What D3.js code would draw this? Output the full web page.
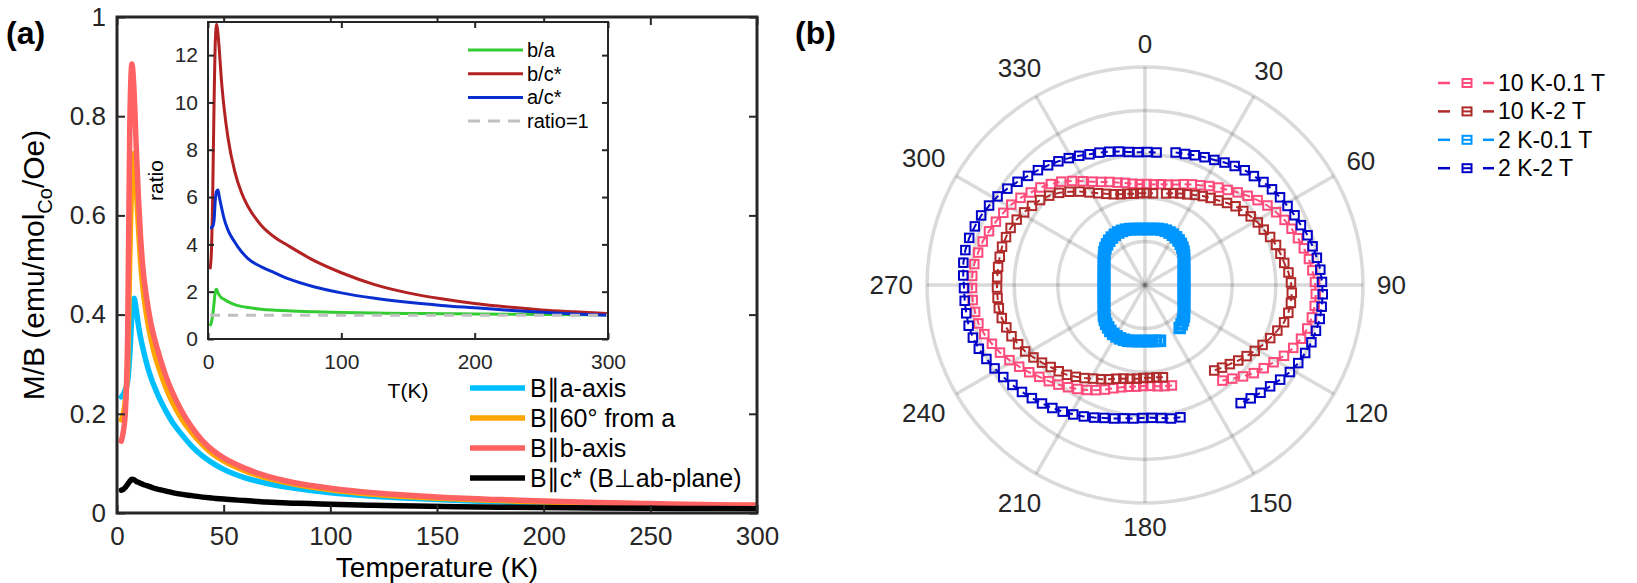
<!DOCTYPE html>
<html><head><meta charset="utf-8">
<script src="https://cdn.jsdelivr.net/npm/d3@7"></script>
<style>body{margin:0;background:#fff} svg{display:block}</style>
</head><body>
<svg id="c" width="1637" height="583"></svg>
<script>
// ---------------- DATA ----------------
// Panel (a): M/B vs temperature
const temps = [2,3,4,5,6,7,8,9,10,11,12,14,16,18,20,23,26,30,35,40,45,50,60,70,80,90,100,120,140,160,180,200,225,250,275,300];
const mbA  = [0.234,0.24,0.25,0.265,0.32,0.40,0.433,0.41,0.38,0.355,0.335,0.30,0.272,0.25,0.23,0.205,0.183,0.16,0.135,0.115,0.10,0.088,0.071,0.060,0.052,0.046,0.041,0.034,0.029,0.025,0.022,0.020,0.018,0.017,0.015,0.014];
const mb60 = [0.188,0.20,0.23,0.30,0.52,0.68,0.725,0.66,0.58,0.51,0.46,0.395,0.35,0.315,0.288,0.252,0.223,0.192,0.162,0.138,0.119,0.105,0.085,0.071,0.061,0.053,0.047,0.038,0.032,0.028,0.025,0.022,0.020,0.018,0.016,0.015];
const mbB  = [0.145,0.165,0.21,0.36,0.78,0.905,0.85,0.74,0.64,0.56,0.50,0.43,0.38,0.345,0.315,0.275,0.243,0.208,0.173,0.146,0.126,0.111,0.090,0.075,0.064,0.056,0.050,0.041,0.035,0.030,0.027,0.024,0.021,0.019,0.017,0.016];
const mbC  = [0.046,0.048,0.052,0.058,0.064,0.068,0.067,0.064,0.062,0.060,0.058,0.055,0.052,0.049,0.047,0.044,0.041,0.038,0.035,0.032,0.030,0.028,0.025,0.022,0.020,0.019,0.0175,0.0155,0.014,0.0128,0.0118,0.011,0.0102,0.0095,0.009,0.0085];
const mainNames = ["B\u2225a-axis","B\u222560\u00b0 from a","B\u2225b-axis","B\u2225c* (B\u22a5ab-plane)"];
const xTicksMain = [0,50,100,150,200,250,300];
const yTicksMain = [0,0.2,0.4,0.6,0.8,1];

// Inset: anisotropy ratios
const ratioT  = [1.5,2.5,3.5,4.5,5.5,6.5,7.5,8.5,10,12,15,20,25,30,40,50,60,80,100,125,150,175,200,225,250,275,300];
const ratioBA = [0.55,0.7,1.0,1.5,2.0,2.1,1.95,1.85,1.75,1.68,1.58,1.45,1.38,1.33,1.26,1.22,1.19,1.15,1.12,1.1,1.08,1.07,1.06,1.05,1.04,1.03,1.03];
const ratioBC = [2.95,3.6,6.0,9.8,12.6,13.3,12.9,12.2,11.0,9.8,8.5,7.1,6.2,5.6,4.8,4.3,3.95,3.3,2.8,2.3,1.95,1.7,1.5,1.35,1.23,1.15,1.08];
const ratioAC = [4.7,4.7,4.75,5.0,5.9,6.25,6.3,6.0,5.6,5.1,4.6,4.1,3.7,3.4,3.05,2.8,2.55,2.2,1.95,1.72,1.55,1.42,1.32,1.22,1.13,1.06,1.0];
const ratioNames = ["b/a","b/c*","a/c*","ratio=1"];
const insetXTicks = [0,100,200,300];
const insetYTicks = [0,2,4,6,8,10,12];

// Panel (b): angular dependence (angle in degrees, clockwise from 0 at top; values beyond 360 wrap)
const polarAngles = d3.range(165, 502, 4);
const r10K01T = [1.04,1.03,1.02,1.01,1.01,1.02,1.03,1.05,1.08,1.12, 1.16,1.20,1.24,1.28,1.32,1.36,1.40,1.45,1.50,1.55, 1.60,1.64,1.68,1.71,1.72,1.73,1.73,1.73,1.72,1.70, 1.68,1.65,1.62,1.59,1.56,1.52,1.47,1.43,1.38,1.33, 1.27,1.21,1.16,1.12,1.09,1.06,1.04,1.02,1.01,1.01, 1.01,1.02,1.03,1.05,1.08,1.11,1.14,1.18,1.22,1.26, 1.31,1.36,1.41,1.46,1.50,1.54,1.57,1.60,1.63,1.66, 1.68,1.70,1.71,1.71,1.70,1.68,1.65,1.61,1.56,1.50, 1.45,1.40,1.34,1.28,1.23];
const r10K2T  = [null,0.94,0.93,0.93,0.93,0.94,0.95,0.96,0.98,1.01, 1.04,1.07,1.11,1.15,1.19,1.22,1.25,1.29,1.33,1.37, 1.40,1.43,1.45,1.47,1.48,1.48,1.48,1.48,1.48,1.48, 1.48,1.47,1.46,1.44,1.41,1.38,1.35,1.31,1.26,1.20, 1.14,1.08,1.03,0.99,0.96,0.94,0.93,0.92,0.92,0.92, 0.92,null,0.94,0.96,0.98,1.00,1.03,1.06,1.09,1.12, 1.16,1.20,1.23,1.26,1.29,1.31,1.34,1.37,1.39,1.41, 1.44,1.46,1.47,1.47,1.46,1.44,1.40,1.36,1.32,1.28, 1.24,1.20,1.16,1.13,1.10];
const r2K01T  = [0.577,0.570,0.564,0.561,0.560,0.562,0.567,0.575,0.583,0.586, 0.589,0.587,0.583,0.575,0.562,0.549,0.532,0.513,0.489,0.469, 0.452,0.439,0.429,0.421,0.415,0.412,0.410,0.411,0.413,0.418, 0.424,0.434,0.445,0.460,0.478,0.500,0.522,0.541,0.556,0.569, 0.579,0.586,0.589,0.588,0.585,0.579,0.570,0.564,0.561,0.560, 0.562,0.567,0.575,0.579,0.581,0.579,0.575,0.569,0.558,0.546, 0.529,0.510,0.489,0.465,0.446,0.430,0.418,0.408,0.400,0.395, 0.391,0.390,0.391,0.393,0.397,0.404,0.412,0.424,0.438,0.454, 0.477,0.500,0.519,0.537,0.552];
const r2K2T   = [1.37,1.36,1.34,1.33,1.33,1.34,1.35,1.37,1.39,1.42, 1.45,1.48,1.51,1.54,1.57,1.60,1.63,1.66,1.69,1.72, 1.75,1.78,1.80,1.81,1.81,1.81,1.81,1.82,1.83,1.83, 1.82,1.80,1.78,1.75,1.72,1.68,1.64,1.60,1.57,1.54, 1.51,1.48,1.45,1.42,1.40,1.38,1.36,1.34,1.33,1.33, 1.33,null,1.36,1.37,1.39,1.41,1.43,1.46,1.49,1.52, 1.54,1.57,1.59,1.61,1.63,1.65,1.67,1.70,1.72,1.74, 1.76,1.77,1.78,1.78,1.78,1.77,1.76,1.74,1.72,1.69, 1.65,1.61,1.58,1.55,1.52];
const polarNames = ["10 K-0.1 T","10 K-2 T","2 K-0.1 T","2 K-2 T"];
const angleTicks = [0,30,60,90,120,150,180,210,240,270,300,330];
const rMax = 2.18;

// ---------------- DRAW ----------------
const FONT = '"Liberation Sans", Arial, Helvetica, sans-serif';
const AX = "#262626";
const svg = d3.select("#c");
const defs = svg.append("defs");

function styleAxis(g, fs){
  g.select(".domain").remove();
  g.selectAll(".tick line").attr("stroke", AX).attr("stroke-width", 2);
  g.selectAll(".tick text").attr("font-size", fs).attr("fill", AX).attr("font-family", FONT);
}

// ---- Panel (a) ----
const A = {l:117, r:757, t:17, b:513};
const xM = d3.scaleLinear().domain([0,300]).range([A.l, A.r]);
const yM = d3.scaleLinear().domain([0,1]).range([A.b, A.t]);
defs.append("clipPath").attr("id","clipA").append("rect")
  .attr("x",A.l).attr("y",A.t).attr("width",A.r-A.l).attr("height",A.b-A.t);

const gA = svg.append("g");
const mainSeries = [
  {vals: mbA,  color:"#00bfff"},
  {vals: mb60, color:"#ffa500"},
  {vals: mbB,  color:"#ff6262"},
  {vals: mbC,  color:"#000000"}
];
const lineMain = d3.line().x((d,i)=>xM(temps[i])).y(d=>yM(d)).curve(d3.curveMonotoneX);
const gCurves = gA.append("g").attr("clip-path","url(#clipA)");
mainSeries.forEach(s=>{
  gCurves.append("path").attr("d", lineMain(s.vals)).attr("fill","none")
    .attr("stroke", s.color).attr("stroke-width", 5.5).attr("stroke-linejoin","round").attr("stroke-linecap","round");
});

// axes (ticks inward)
const gxB = gA.append("g").attr("transform",`translate(0,${A.b})`)
  .call(d3.axisBottom(xM).tickValues(xTicksMain).tickSizeInner(-8).tickSizeOuter(0).tickPadding(14).tickFormat(d=>String(d)));
styleAxis(gxB, 26);
const gxT = gA.append("g").attr("transform",`translate(0,${A.t})`)
  .call(d3.axisTop(xM).tickValues(xTicksMain).tickSizeInner(-8).tickSizeOuter(0).tickFormat(""));
styleAxis(gxT, 26);
const gyL = gA.append("g").attr("transform",`translate(${A.l},0)`)
  .call(d3.axisLeft(yM).tickValues(yTicksMain).tickSizeInner(-8).tickSizeOuter(0).tickPadding(11).tickFormat(d=>String(d)));
styleAxis(gyL, 26);
const gyR = gA.append("g").attr("transform",`translate(${A.r},0)`)
  .call(d3.axisRight(yM).tickValues(yTicksMain).tickSizeInner(-8).tickSizeOuter(0).tickFormat(""));
styleAxis(gyR, 26);
gA.append("rect").attr("x",A.l).attr("y",A.t).attr("width",A.r-A.l).attr("height",A.b-A.t)
  .attr("fill","none").attr("stroke",AX).attr("stroke-width",3);

gA.append("text").attr("x",(A.l+A.r)/2).attr("y",577).attr("text-anchor","middle")
  .attr("font-family",FONT).attr("font-size",28).attr("fill","#000").text("Temperature (K)");
const yl = gA.append("text").attr("transform",`translate(44,${(A.t+A.b)/2}) rotate(-90)`)
  .attr("text-anchor","middle").attr("font-family",FONT).attr("font-size",30).attr("fill","#000");
yl.append("tspan").text("M/B (emu/mol");
yl.append("tspan").attr("font-size",20).attr("dy",8).text("Co");
yl.append("tspan").attr("dy",-8).text("/Oe)");
svg.append("text").attr("x",6).attr("y",44).attr("font-family",FONT).attr("font-weight","bold")
  .attr("font-size",32).attr("fill","#000").text("(a)");

// main legend
const legA = gA.append("g");
mainSeries.forEach((s,i)=>{
  const y = 388 + i*30;
  legA.append("line").attr("x1",470).attr("x2",525).attr("y1",y).attr("y2",y)
    .attr("stroke",s.color).attr("stroke-width",5.5);
  legA.append("text").attr("x",530).attr("y",y+9).attr("font-family",FONT).attr("font-size",25)
    .attr("fill","#000").text(mainNames[i]);
});

// ---- Inset ----
const I = {l:208, r:608, t:22, b:339};
const xI = d3.scaleLinear().domain([0,300]).range([I.l, I.r]);
const yI = d3.scaleLinear().domain([0,13.4]).range([I.b, I.t]);
defs.append("clipPath").attr("id","clipI").append("rect")
  .attr("x",I.l).attr("y",I.t).attr("width",I.r-I.l).attr("height",I.b-I.t);
const gI = svg.append("g");
gI.append("rect").attr("x",I.l).attr("y",I.t).attr("width",I.r-I.l).attr("height",I.b-I.t).attr("fill","#fff");
const lineI = d3.line().x((d,i)=>xI(ratioT[i])).y(d=>yI(d)).curve(d3.curveMonotoneX);
const insetSeries = [
  {vals: ratioBA, color:"#33cc33"},
  {vals: ratioBC, color:"#b22222"},
  {vals: ratioAC, color:"#0a2fd0"}
];
const gIC = gI.append("g").attr("clip-path","url(#clipI)");
insetSeries.forEach(s=>{
  gIC.append("path").attr("d", lineI(s.vals)).attr("fill","none").attr("stroke",s.color)
    .attr("stroke-width",3).attr("stroke-linejoin","round");
});
gIC.append("line").attr("x1",xI(ratioT[0])).attr("x2",xI(300)).attr("y1",yI(1)).attr("y2",yI(1))
  .attr("stroke","#c0c0c0").attr("stroke-width",3).attr("stroke-dasharray","10,8");

const gixB = gI.append("g").attr("transform",`translate(0,${I.b})`)
  .call(d3.axisBottom(xI).tickValues(insetXTicks).tickSizeInner(-6).tickSizeOuter(0).tickPadding(15).tickFormat(d=>String(d)));
styleAxis(gixB, 21);
const gixT = gI.append("g").attr("transform",`translate(0,${I.t})`)
  .call(d3.axisTop(xI).tickValues(insetXTicks).tickSizeInner(-6).tickSizeOuter(0).tickFormat(""));
styleAxis(gixT, 21);
const giyL = gI.append("g").attr("transform",`translate(${I.l},0)`)
  .call(d3.axisLeft(yI).tickValues(insetYTicks).tickSizeInner(-6).tickSizeOuter(0).tickPadding(10).tickFormat(d=>String(d)));
styleAxis(giyL, 21);
const giyR = gI.append("g").attr("transform",`translate(${I.r},0)`)
  .call(d3.axisRight(yI).tickValues(insetYTicks).tickSizeInner(-6).tickSizeOuter(0).tickFormat(""));
styleAxis(giyR, 21);
gI.append("rect").attr("x",I.l).attr("y",I.t).attr("width",I.r-I.l).attr("height",I.b-I.t)
  .attr("fill","none").attr("stroke",AX).attr("stroke-width",2);
gI.append("text").attr("x",(I.l+I.r)/2).attr("y",398).attr("text-anchor","middle")
  .attr("font-family",FONT).attr("font-size",21).attr("fill","#000").text("T(K)");
gI.append("text").attr("transform",`translate(163,${(I.t+I.b)/2}) rotate(-90)`).attr("text-anchor","middle")
  .attr("font-family",FONT).attr("font-size",21).attr("fill","#000").text("ratio");

const legI = gI.append("g");
const legIColors = ["#33cc33","#b22222","#0a2fd0","#c0c0c0"];
legIColors.forEach((c,i)=>{
  const y = 50 + i*23.7;
  legI.append("line").attr("x1",468).attr("x2",523).attr("y1",y).attr("y2",y).attr("stroke",c)
    .attr("stroke-width",3).attr("stroke-dasharray", i===3 ? "12,8" : null);
  legI.append("text").attr("x",527).attr("y",y+7).attr("font-family",FONT).attr("font-size",20)
    .attr("fill","#000").text(ratioNames[i]);
});

// ---- Panel (b) polar ----
const P = {cx:1145, cy:285, R:218};
const rS = d3.scaleLinear().domain([0, rMax]).range([0, P.R]);
const gP = svg.append("g").attr("transform",`translate(${P.cx},${P.cy})`);
const ringVals = d3.range(1,6).map(i=>rMax*i/5);
const gridC = "rgba(38,38,38,0.17)";
ringVals.forEach(v=>{
  gP.append("circle").attr("r", rS(v)).attr("fill","none").attr("stroke",gridC).attr("stroke-width",3.5);
});
angleTicks.forEach(a=>{
  const p = d3.pointRadial(a*Math.PI/180, rS(rMax));
  gP.append("line").attr("x1",0).attr("y1",0).attr("x2",p[0]).attr("y2",p[1])
    .attr("stroke",gridC).attr("stroke-width",3.5);
});
angleTicks.forEach(a=>{
  const t = gP.append("text").attr("font-family",FONT).attr("font-size",26).attr("fill",AX)
    .attr("text-anchor","middle").attr("dy","0.36em").text(String(a));
  const w = t.node().getComputedTextLength();
  const th = a*Math.PI/180;
  const rr = P.R + 14 + Math.abs(Math.sin(th))*w/2 + Math.abs(Math.cos(th))*9.5;
  const p = d3.pointRadial(th, rr);
  t.attr("x",p[0]).attr("y",p[1]);
});

const polarSeries = [
  {vals: r10K01T, color:"#ff4a7a", ms:8.5, sw:2},
  {vals: r10K2T,  color:"#b02a2a", ms:8.5, sw:2},
  {vals: r2K01T,  color:"#0096ff", ms:9,   sw:3.6},
  {vals: r2K2T,   color:"#0000c8", ms:8.5, sw:2}
];
const lr = d3.lineRadial().angle(d=>d.a*Math.PI/180).radius(d=>rS(d.r)).defined(d=>d.r!=null);
polarSeries.forEach(s=>{
  const pts = polarAngles.map((a,i)=>({a:a, r:s.vals[i]}));
  const g = gP.append("g");
  g.append("path").attr("d", lr(pts)).attr("fill","none").attr("stroke",s.color)
    .attr("stroke-width",2).attr("stroke-dasharray","7,5");
  g.selectAll("rect").data(pts.filter(d=>d.r!=null)).enter().append("rect")
    .attr("x",d=>d3.pointRadial(d.a*Math.PI/180, rS(d.r))[0]-s.ms/2)
    .attr("y",d=>d3.pointRadial(d.a*Math.PI/180, rS(d.r))[1]-s.ms/2)
    .attr("width",s.ms).attr("height",s.ms).attr("fill","none").attr("stroke",s.color).attr("stroke-width",s.sw);
});
svg.append("text").attr("x",795).attr("y",44).attr("font-family",FONT).attr("font-weight","bold")
  .attr("font-size",32).attr("fill","#000").text("(b)");

// polar legend
const legP = svg.append("g");
polarSeries.forEach((s,i)=>{
  const y = 83 + i*28.4;
  legP.append("line").attr("x1",1438).attr("x2",1450).attr("y1",y).attr("y2",y).attr("stroke",s.color).attr("stroke-width",2.5);
  legP.append("line").attr("x1",1483).attr("x2",1494).attr("y1",y).attr("y2",y).attr("stroke",s.color).attr("stroke-width",2.5);
  legP.append("line").attr("x1",1463).attr("x2",1471).attr("y1",y).attr("y2",y).attr("stroke",s.color).attr("stroke-width",2);
  legP.append("rect").attr("x",1467-4.5).attr("y",y-4).attr("width",9).attr("height",8)
    .attr("fill","none").attr("stroke",s.color).attr("stroke-width",2);
  legP.append("text").attr("x",1498).attr("y",y+8).attr("font-family",FONT).attr("font-size",23)
    .attr("fill","#000").text(polarNames[i]);
});
</script>
</body></html>
